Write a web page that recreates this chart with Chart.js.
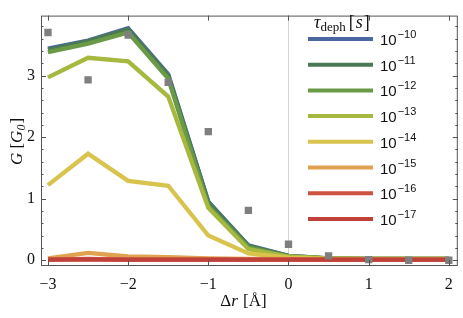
<!DOCTYPE html>
<html>
<head>
<meta charset="utf-8">
<script src="https://cdn.jsdelivr.net/npm/chart.js@4.4.0/dist/chart.umd.min.js"></script>
<style>
  html, body { margin: 0; padding: 0; background: #fff; }
  #wrap { width: 463px; height: 318px; position: relative; }
</style>
</head>
<body>
<div id="wrap"><canvas id="chart" width="463" height="318"></canvas></div>
<script>
const xValues = [-3, -2.5, -2, -1.5, -1, -0.5, 0, 0.5, 1, 1.5, 2];

const measured = [3.70, 2.93, 3.66, 2.89, 2.09, 0.81, 0.26, 0.07, 0.01, 0.0, 0.0];

const tauLabels = ['−10', '−11', '−12', '−13', '−14', '−15', '−16', '−17'];
const tauColors = ['#4a67a0', '#4a7a55', '#6a9a45', '#a6b83e', '#d8c44c', '#e0a250', '#cc5242', '#c0413a'];

const g1e10 = [3.44, 3.57, 3.77, 3.02, 0.95, 0.24, 0.07, 0.03, 0.02, 0.02, 0.02];
const g1e11 = [3.42, 3.56, 3.75, 3.00, 0.94, 0.23, 0.07, 0.03, 0.02, 0.02, 0.02];
const g1e12 = [3.38, 3.52, 3.70, 2.95, 0.88, 0.21, 0.06, 0.03, 0.02, 0.02, 0.02];
const g1e13 = [2.97, 3.29, 3.23, 2.66, 0.85, 0.18, 0.06, 0.03, 0.02, 0.02, 0.02];
const g1e14 = [1.22, 1.73, 1.29, 1.21, 0.40, 0.11, 0.04, 0.02, 0.02, 0.02, 0.02];
const g1e15 = [0.03, 0.12, 0.06, 0.05, 0.03, 0.02, 0.02, 0.01, 0.01, 0.01, 0.01];
const g1e16 = [0.01, 0.02, 0.01, 0.01, 0.01, 0.01, 0.01, 0.01, 0.01, 0.01, 0.01];
const g1e17 = [0.01, 0.01, 0.01, 0.01, 0.01, 0.01, 0.01, 0.01, 0.01, 0.01, 0.01];

const series = [g1e10, g1e11, g1e12, g1e13, g1e14, g1e15, g1e16, g1e17];

const xTicks = [-3, -2, -1, 0, 1, 2];
const yTicks = [0, 1, 2, 3];

const toPoints = (values) => values.map((v, i) => ({ x: xValues[i], y: v }));
const minus = (v) => String(v).replace('-', '−');

const lineSets = series.map((values, i) => ({
  label: `10${tauLabels[i]}`,
  data: toPoints(values),
  borderColor: tauColors[i],
  borderWidth: 4.3,
  pointRadius: 0,
  fill: false,
  tension: 0,
  order: 10 - i,
}));

const frameTicks = {
  id: 'frameTicks',
  afterDraw(chart) {
    const { ctx, chartArea: a, scales } = chart;
    const xs = scales.x;
    const ys = scales.y;
    ctx.save();
    ctx.strokeStyle = '#555';
    ctx.lineWidth = 1;
    ctx.strokeRect(a.left + 0.5, a.top + 0.5, a.right - a.left - 1, a.bottom - a.top);

    ctx.beginPath();
    xTicks.forEach((v) => {
      const px = Math.round(xs.getPixelForValue(v)) + 0.5;
      ctx.moveTo(px, a.bottom); ctx.lineTo(px, a.bottom - 5);
      ctx.moveTo(px, a.top); ctx.lineTo(px, a.top + 5);
    });
    for (let k = 0; k <= 19; k++) {
      const v = k * 0.2;
      const py = Math.round(ys.getPixelForValue(v)) + 0.5;
      const len = k % 5 === 0 ? 5 : 2.5;
      ctx.moveTo(a.left, py); ctx.lineTo(a.left + len, py);
      ctx.moveTo(a.right, py); ctx.lineTo(a.right - len, py);
    }
    ctx.stroke();

    // legend
    const legendTop = 39;
    const step = 25.7;
    ctx.font = 'italic 18px "Liberation Serif"';
    ctx.fillStyle = '#111';
    ctx.textBaseline = 'alphabetic';
    ctx.textAlign = 'left';
    let tx = 314;
    ctx.fillText('τ', tx, 28);
    tx += ctx.measureText('τ').width;
    ctx.font = '13px "Liberation Serif"';
    ctx.fillText('deph', tx, 31);
    tx += ctx.measureText('deph').width + 3;
    ctx.font = '18px "Liberation Serif"';
    ctx.fillText('[', tx, 28);
    tx += ctx.measureText('[').width + 1;
    ctx.font = 'italic 18px "Liberation Serif"';
    ctx.fillText('s', tx, 28);
    tx += ctx.measureText('s').width + 1;
    ctx.font = '18px "Liberation Serif"';
    ctx.fillText(']', tx, 28);

    tauColors.forEach((color, i) => {
      const y = legendTop + i * step;
      ctx.strokeStyle = color;
      ctx.lineWidth = 4;
      ctx.beginPath();
      ctx.moveTo(308, y); ctx.lineTo(373, y);
      ctx.stroke();
      ctx.fillStyle = '#111';
      ctx.font = '15px "Liberation Sans"';
      ctx.fillText('10', 380, y + 6);
      const w = ctx.measureText('10').width;
      ctx.font = '11px "Liberation Sans"';
      ctx.fillText(tauLabels[i], 380 + w + 1, y - 1);
    });

    // axis titles
    ctx.fillStyle = '#111';
    const p1 = 'Δ';
    ctx.font = '17px "Liberation Serif"';
    const w1 = ctx.measureText(p1).width;
    ctx.font = 'italic 17px "Liberation Serif"';
    const w2 = ctx.measureText('r').width;
    ctx.font = '17px "Liberation Serif"';
    const w3 = ctx.measureText(' [Å]').width;
    const x0 = 243 - (w1 + w2 + w3) / 2;
    ctx.fillText(p1, x0, 306);
    ctx.font = 'italic 17px "Liberation Serif"';
    ctx.fillText('r', x0 + w1, 306);
    ctx.font = '17px "Liberation Serif"';
    ctx.fillText(' [Å]', x0 + w1 + w2 + 1, 306);

    ctx.translate(22, 142);
    ctx.rotate(-Math.PI / 2);
    ctx.font = 'italic 17px "Liberation Serif"';
    const gW = ctx.measureText('G').width;
    ctx.font = '17px "Liberation Serif"';
    const bW = ctx.measureText(' [').width;
    ctx.font = 'italic 17px "Liberation Serif"';
    const g0W = ctx.measureText('G').width;
    ctx.font = 'italic 12px "Liberation Serif"';
    const zW = ctx.measureText('0').width;
    ctx.font = '17px "Liberation Serif"';
    const cW = ctx.measureText(']').width;
    let ox = -(gW + bW + g0W + zW + cW) / 2;
    ctx.font = 'italic 17px "Liberation Serif"';
    ctx.fillText('G', ox, 0); ox += gW;
    ctx.font = '17px "Liberation Serif"';
    ctx.fillText(' [', ox, 0); ox += bW;
    ctx.font = 'italic 17px "Liberation Serif"';
    ctx.fillText('G', ox, 0); ox += g0W;
    ctx.font = 'italic 12px "Liberation Serif"';
    ctx.fillText('0', ox, 3); ox += zW;
    ctx.font = '17px "Liberation Serif"';
    ctx.fillText(']', ox + 1, 0);
    ctx.restore();
  },
};

new Chart(document.getElementById('chart'), {
  type: 'line',
  data: {
    datasets: [
      {
        label: 'measured',
        data: toPoints(measured),
        showLine: false,
        pointStyle: 'rect',
        pointRadius: 5.2,
        pointBackgroundColor: '#7f7f7f',
        pointBorderColor: '#7f7f7f',
        pointBorderWidth: 0,
        order: 0,
      },
      ...lineSets,
    ],
  },
  options: {
    responsive: false,
    animation: false,
    layout: { padding: { top: 6, right: 4, left: 0, bottom: 0 } },
    plugins: { legend: { display: false }, tooltip: { enabled: false } },
    scales: {
      x: {
        type: 'linear',
        min: -3.087,
        max: 2.112,
        afterBuildTicks: (s) => { s.ticks = xTicks.map((v) => ({ value: v })); },
        afterFit: (s) => { s.height = 53; },
        border: { display: false },
        grid: {
          drawTicks: false,
          color: (c) => (c.tick && c.tick.value === 0 ? '#d4d4d4' : 'rgba(0,0,0,0)'),
        },
        ticks: {
          padding: 10,
          maxRotation: 0,
          color: '#111',
          font: { family: 'Liberation Serif', size: 16 },
          callback: (v) => minus(v),
        },
      },
      y: {
        min: -0.078,
        max: 3.975,
        afterBuildTicks: (s) => { s.ticks = yTicks.map((v) => ({ value: v })); },
        afterFit: (s) => { s.width = 41; },
        border: { display: false },
        grid: { display: false, drawTicks: false },
        ticks: {
          padding: 6,
          color: '#111',
          font: { family: 'Liberation Serif', size: 16 },
        },
      },
    },
  },
  plugins: [frameTicks],
});
</script>
</body>
</html>
